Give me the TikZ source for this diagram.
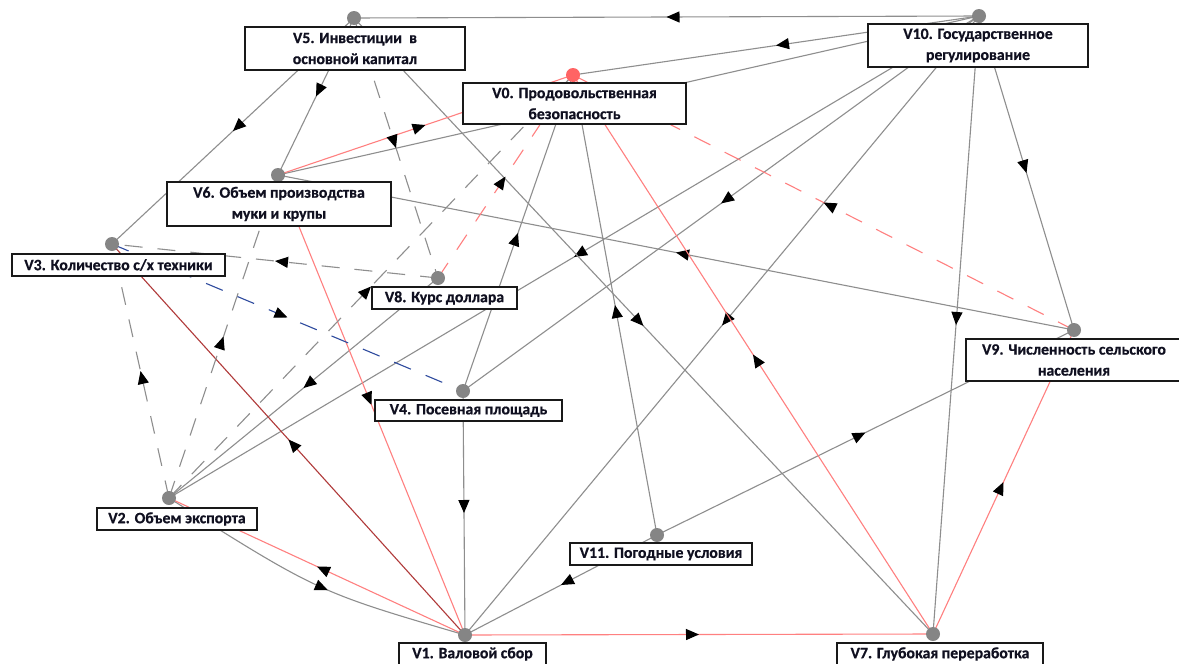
\documentclass[tikz,border=0pt]{standalone}
\usepackage{fontspec}
\setmainfont{Carlito}[BoldFeatures={FakeBold=0.6}]
\usetikzlibrary{arrows.meta,decorations.markings}
\pgfdeclarelayer{bg}
\pgfsetlayers{bg,main}
\definecolor{edgegray}{HTML}{8E8E8E}
\definecolor{dotgray}{HTML}{858585}
\definecolor{posred}{HTML}{FF8080}
\definecolor{darkred}{HTML}{B03A3A}
\definecolor{negblue}{HTML}{2E4A9E}
\definecolor{dotred}{HTML}{FF6464}
\definecolor{labeltext}{HTML}{101020}
\tikzset{
  dot/.style={circle, fill=dotgray, inner sep=0pt, minimum size=14pt},
  lbl/.style={draw=black!90, line width=1.3pt, fill=white, text=labeltext,
    font=\bfseries\fontsize{15.8}{21}\selectfont, align=center, inner sep=0pt},
  arr/.style={postaction={decorate, decoration={markings,
    mark=at position #1 with {\arrow{Triangle[length=13pt,width=11pt,color=black]}}}}},
  arr/.default=0.5,
  link/.style={draw=edgegray, line width=1.1pt, arr},
  curvelink/.style={draw=edgegray, line width=1.1pt, arr=0.56},
  redlink/.style={draw=posred, line width=1.1pt, arr},
  darklink/.style={draw=darkred, line width=1.1pt, arr},
  dashlink/.style={link, dash pattern=on 18pt off 15pt},
  reddash/.style={redlink, dash pattern=on 18pt off 16pt},
  bluedash/.style={draw=negblue, line width=1.1pt, arr, dash pattern=on 18pt off 16pt}
}
\begin{document}
\begin{tikzpicture}[x=1pt,y=-1pt]
\useasboundingbox (0,0) rectangle (1179,664);
\begin{pgfonlayer}{bg}
\fill[white] (0,0) rectangle (1179,664);
\end{pgfonlayer}
% dots
\node[dot, fill=dotred] (V0) at (573,75) {};
\node[dot] (V1) at (465,635) {};
\node[dot] (V2) at (169,498) {};
\node[dot] (V3) at (112,244) {};
\node[dot] (V4) at (463,391) {};
\node[dot] (V5) at (354,18) {};
\node[dot] (V6) at (278,175) {};
\node[dot] (V7) at (933,634) {};
\node[dot] (V8) at (438,278) {};
\node[dot] (V9) at (1074,330) {};
\node[dot] (V10) at (979,16) {};
\node[dot] (V11) at (657,535) {};
% labels
\node[lbl, minimum width=223pt, minimum height=41pt] (L0) at (574.5,103.5) {V0. Продовольственная\\безопасность};
\node[lbl, minimum width=147pt, minimum height=22pt] (L1) at (472.5,654) {V1. Валовой сбор};
\node[lbl, minimum width=160pt, minimum height=22pt] (L2) at (177,519) {V2. Объем экспорта};
\node[lbl, minimum width=213pt, minimum height=22pt] (L3) at (118.5,265) {V3. Количество с/х техники};
\node[lbl, minimum width=187pt, minimum height=21pt] (L4) at (468.5,410.5) {V4. Посевная площадь};
\node[lbl, minimum width=220pt, minimum height=43pt] (L5) at (355,48.5) {V5. Инвестиции\ \ в\\основной капитал};
\node[lbl, minimum width=224pt, minimum height=44pt] (L6) at (279,204) {V6. Объем производства\\муки и крупы};
\node[lbl, minimum width=206pt, minimum height=22pt] (L7) at (940,654) {V7. Глубокая переработка};
\node[lbl, minimum width=145pt, minimum height=22pt] (L8) at (444.5,298) {V8. Курс доллара};
\node[lbl, minimum width=216pt, minimum height=42pt] (L9) at (1074,360) {V9. Численность сельского\\населения};
\node[lbl, minimum width=220pt, minimum height=43pt] (L10) at (978,45.5) {V10. Государственное\\регулирование};
\node[lbl, minimum width=182pt, minimum height=22pt] (L11) at (661,554) {V11. Погодные условия};
% edges
\begin{pgfonlayer}{bg}
\draw[link] (V10.center) -- (V5.center);
\draw[link] (V10.center) -- (V0.center);
\draw[link] (V10.center) -- (V6.center);
\draw[link] (V10.center) -- (V2.center);
\draw[link] (V10.center) -- (V4.center);
\draw[link] (V10.center) -- (V1.center);
\draw[link] (V10.center) -- (V7.center);
\draw[link] (V10.center) -- (V9.center);
\draw[link] (V5.center) -- (V3.center);
\draw[link] (V5.center) -- (V6.center);
\draw[link] (V5.center) -- (V7.center);
\draw[link] (V4.center) -- (V0.center);
\draw[link] (V11.center) -- (V0.center);
\draw[link] (V9.center) -- (V6.center);
\draw[link] (V8.center) -- (V2.center);
\draw[link] (V4.center) -- (V1.center);
\draw[link] (V11.center) -- (V1.center);
\draw[link] (V11.center) -- (V9.center);
\draw[curvelink] (V2.center) .. controls (318,592) .. (V1.center);
\draw[redlink] (V6.center) -- (V0.center);
\draw[redlink] (V7.center) -- (V0.center);
\draw[redlink] (V6.center) -- (V1.center);
\draw[redlink] (V1.center) -- (V2.center);
\draw[redlink] (V1.center) -- (V7.center);
\draw[redlink] (V7.center) -- (V9.center);
\draw[darklink] (V1.center) -- (V3.center);
\draw[dashlink] (V5.center) -- (V8.center);
\draw[dashlink] (V8.center) -- (V3.center);
\draw[dashlink] (V2.center) -- (V3.center);
\draw[dashlink] (V2.center) -- (V6.center);
\draw[dashlink] (V2.center) -- (V0.center);
\draw[reddash] (V8.center) -- (V0.center);
\draw[reddash] (V9.center) -- (V0.center);
\draw[bluedash] (V3.center) -- (V4.center);
\end{pgfonlayer}
\end{tikzpicture}
\end{document}
